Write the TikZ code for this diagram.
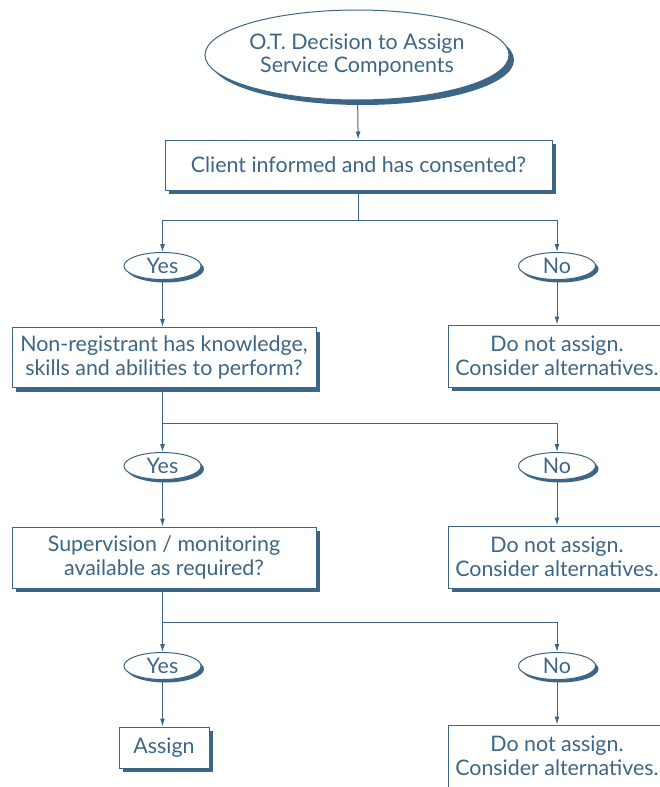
\documentclass[tikz,border=0pt]{standalone}
\usepackage{fontspec}
\setmainfont{Lato}
\usetikzlibrary{shapes.geometric,shadows,arrows.meta}

\definecolor{otblue}{HTML}{3D6686}

\tikzstyle{base} = [draw=otblue, line width=1pt, fill=white, text=otblue, align=center, inner sep=0pt,
    font=\fontsize{21.4}{23.5}\selectfont]
\tikzstyle{box} = [base, rectangle, drop shadow={shadow xshift=4pt, shadow yshift=-4pt, fill=otblue, opacity=1}]
\tikzstyle{start} = [base, ellipse, minimum width=302pt, minimum height=90pt,
    drop shadow={shadow xshift=5pt, shadow yshift=-5pt, fill=otblue, opacity=1}]
\tikzstyle{answer} = [base, ellipse, minimum width=77pt, minimum height=27pt,
    drop shadow={shadow xshift=3pt, shadow yshift=-3pt, fill=otblue, opacity=1}]
\tikzstyle{stopbox} = [box, minimum width=218pt, minimum height=62pt]
\tikzstyle{line} = [draw=otblue, line width=1pt]
\tikzstyle{arrow} = [line, -{Latex[length=8pt,width=5pt]}]

\begin{document}
\begin{tikzpicture}[x=1pt, y=-1pt]
\useasboundingbox (0,0) rectangle (660,787);

% start and first question
\node[start] (goal) at (357,55) {O.T. Decision to Assign\\Service Components};
\node[box, minimum width=387pt, minimum height=50pt] (client) at (358.5,165) {Client informed and has consented?};
\draw[arrow] (goal) -- (client);

% first split
\coordinate (split1) at (358.5,220);
\node[answer] (yes1) at (162.5,266) {Yes};
\node[answer] (no1) at (557,266) {No};
\draw[line] (client) -- (split1);
\draw[arrow] (split1) -| (yes1);
\draw[arrow] (split1) -| (no1);

\node[box, minimum width=304pt, minimum height=60pt] (skill) at (164,357.5)
    {Non-registrant has knowledge,\\skills and abilities to perform?};
\node[stopbox] (stop1) at (557,356) {Do not assign.\\Consider alternatives.};
\draw[arrow] (yes1) -- (yes1 |- skill.north);
\draw[arrow] (no1) -- (stop1);

% second split
\coordinate (split2) at (162.5,423);
\node[answer] (yes2) at (162.5,466) {Yes};
\node[answer] (no2) at (557,466) {No};
\draw[line] (yes1 |- skill.south) -- (split2);
\draw[arrow] (split2) -- (yes2);
\draw[arrow] (split2) -| (no2);

\node[box, minimum width=304pt, minimum height=61pt] (watch) at (164,557.5)
    {Supervision / monitoring\\available as required?};
\node[stopbox] (stop2) at (557,557) {Do not assign.\\Consider alternatives.};
\draw[arrow] (yes2) -- (yes2 |- watch.north);
\draw[arrow] (no2) -- (stop2);

% third split
\coordinate (split3) at (162.5,622);
\node[answer] (yes3) at (162.5,666) {Yes};
\node[answer] (no3) at (557,666) {No};
\draw[line] (yes2 |- watch.south) -- (split3);
\draw[arrow] (split3) -- (yes3);
\draw[arrow] (split3) -| (no3);

\node[box, minimum width=90pt, minimum height=41pt] (assign) at (164,747.5) {Assign};
\node[stopbox] (stop3) at (557,756) {Do not assign.\\Consider alternatives.};
\draw[arrow] (yes3) -- (yes3 |- assign.north);
\draw[arrow] (no3) -- (stop3);
\end{tikzpicture}
\end{document}
